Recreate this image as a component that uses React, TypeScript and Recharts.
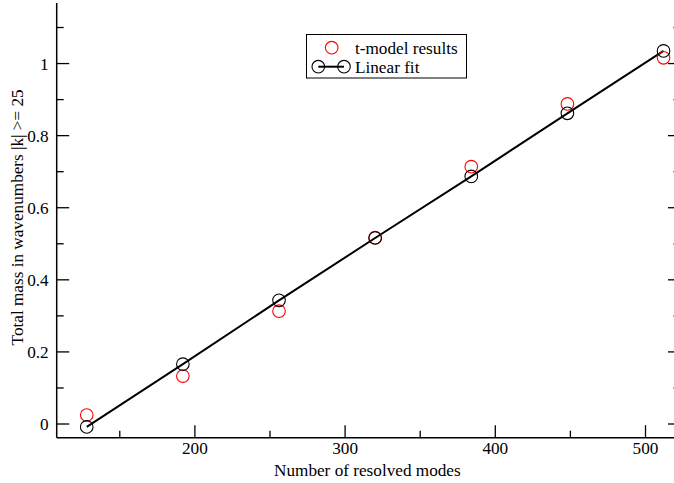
import React from "react";
import { ComposedChart, XAxis, YAxis, Line, Scatter, Legend } from "recharts";

const modes = [128, 192, 256, 320, 384, 448, 512];
const tModelResults = [0.025, 0.133, 0.313, 0.517, 0.714, 0.888, 1.016];
const linearFit = [-0.008, 0.166, 0.343, 0.516, 0.687, 0.862, 1.035];

const xTicks = [150, 200, 250, 300, 350, 400, 450, 500];
const xLabelled = [200, 300, 400, 500];
const yTicks = [0, 0.1, 0.2, 0.3, 0.4, 0.5, 0.6, 0.7, 0.8, 0.9, 1.0, 1.1];
const yLabelled = [0, 0.2, 0.4, 0.6, 0.8, 1.0];

const X_TITLE = "Number of resolved modes";
const Y_TITLE = "Total mass in wavenumbers |k| >= 25";
const SERIES_RED = "t-model results";
const SERIES_BLACK = "Linear fit";

const X_DOMAIN = [108, 523.3];
const Y_DOMAIN = [-0.038, 1.168];

const FONT = '"Liberation Serif", "Times New Roman", serif';
const FS = 17.2;
const MAJOR = 12.5;
const MINOR = 7;

const redData = modes.map((m, i) => ({ x: m, y: tModelResults[i] }));
const fitData = modes.map((m, i) => ({ x: m, y: linearFit[i] }));

const isXMajor = (v: number) => xLabelled.indexOf(v) >= 0;
const isYMajor = (v: number) => yLabelled.some((l) => Math.abs(l - v) < 1e-9);

const BottomTick = (p: any) => {
  const v = p.payload.value;
  const major = isXMajor(v);
  return (
    <g>
      <line x1={p.x} y1={p.y} x2={p.x} y2={p.y - (major ? MAJOR : MINOR)} stroke="#000" strokeWidth={1.3} />
      {major && (
        <text x={p.x} y={p.y + 16.5} textAnchor="middle" fontFamily={FONT} fontSize={FS} fill="#000">
          {String(v)}
        </text>
      )}
    </g>
  );
};

const TopTick = (p: any) => {
  const v = p.payload.value;
  const major = isXMajor(v);
  return <line x1={p.x} y1={p.y} x2={p.x} y2={p.y + (major ? MAJOR : MINOR)} stroke="#000" strokeWidth={1.3} />;
};

const LeftTick = (p: any) => {
  const v = p.payload.value;
  const major = isYMajor(v);
  return (
    <g>
      <line x1={p.x} y1={p.y} x2={p.x + (major ? MAJOR : MINOR)} y2={p.y} stroke="#000" strokeWidth={1.3} />
      {major && (
        <text x={p.x - 8} y={p.y} dy="0.35em" textAnchor="end" fontFamily={FONT} fontSize={FS} fill="#000">
          {String(Math.round(v * 10) / 10)}
        </text>
      )}
    </g>
  );
};

const RightTick = (p: any) => {
  const v = p.payload.value;
  const major = isYMajor(v);
  return <line x1={p.x} y1={p.y} x2={p.x - (major ? MAJOR : MINOR)} y2={p.y} stroke="#000" strokeWidth={1.3} />;
};

const XTitle = (p: any) => {
  const vb = p.viewBox;
  return (
    <text x={(56.7 + 674) / 2 + 2} y={vb.y + 38} textAnchor="middle" fontFamily={FONT} fontSize={FS} fill="#000">
      {X_TITLE}
    </text>
  );
};

const YTitle = (p: any) => {
  const vb = p.viewBox;
  const cx = vb.x + 23;
  const cy = vb.y + vb.height / 2 - 3;
  return (
    <text x={cx} y={cy} transform={`rotate(-90 ${cx} ${cy})`} textAnchor="middle" fontFamily={FONT} fontSize={FS} fill="#000">
      {Y_TITLE}
    </text>
  );
};

const RedDot = (p: any) => <circle cx={p.cx} cy={p.cy} r={6.3} fill="none" stroke="#ff0000" strokeWidth={1.1} />;

const LegendBox = () => (
  <svg width={162} height={46} style={{ display: "block" }}>
    <rect x={0.5} y={0.5} width={160} height={43.5} fill="#fff" stroke="#000" strokeWidth={1} />
    <circle cx={25.7} cy={13.7} r={6.3} fill="none" stroke="#ff0000" strokeWidth={1.1} />
    <text x={49} y={19.5} fontFamily={FONT} fontSize={FS} fill="#000">{SERIES_RED}</text>
    <line x1={12.3} y1={32.7} x2={38} y2={32.7} stroke="#000" strokeWidth={2} />
    <circle cx={12.3} cy={32.7} r={6.3} fill="none" stroke="#000" strokeWidth={1.1} />
    <circle cx={38} cy={32.7} r={6.3} fill="none" stroke="#000" strokeWidth={1.1} />
    <text x={49} y={38.5} fontFamily={FONT} fontSize={FS} fill="#000">{SERIES_BLACK}</text>
  </svg>
);

export default function App() {
  return (
    <div style={{ position: "absolute", left: 0, top: 0, width: 674, height: 483, overflow: "hidden", background: "#fff" }}>
      <ComposedChart width={682} height={483} margin={{ top: 3, right: 0, bottom: 0, left: 0 }}>
        <XAxis
          xAxisId={0}
          type="number"
          dataKey="x"
          domain={X_DOMAIN}
          allowDataOverflow
          ticks={xTicks}
          interval={0}
          height={45.3}
          tickSize={0}
          tickMargin={0}
          tickLine={false}
          axisLine={{ stroke: "#000", strokeWidth: 1.5 }}
          tick={<BottomTick />}
          label={{ value: X_TITLE, content: <XTitle /> }}
        />
        <XAxis
          xAxisId="top"
          orientation="top"
          type="number"
          dataKey="x"
          domain={X_DOMAIN}
          allowDataOverflow
          ticks={xTicks}
          interval={0}
          height={0}
          tickSize={0}
          tickMargin={0}
          tickLine={false}
          axisLine={{ stroke: "#000", strokeWidth: 1.5 }}
          tick={<TopTick />}
        />
        <YAxis
          yAxisId={0}
          type="number"
          dataKey="y"
          domain={Y_DOMAIN}
          allowDataOverflow
          ticks={yTicks}
          interval={0}
          width={56.7}
          tickSize={0}
          tickMargin={0}
          tickLine={false}
          axisLine={{ stroke: "#000", strokeWidth: 1.5 }}
          tick={<LeftTick />}
          label={{ value: Y_TITLE, content: <YTitle /> }}
        />
        <YAxis
          yAxisId="right"
          orientation="right"
          type="number"
          dataKey="y"
          domain={Y_DOMAIN}
          allowDataOverflow
          ticks={yTicks}
          interval={0}
          width={1.5}
          tickSize={0}
          tickMargin={0}
          tickLine={false}
          axisLine={{ stroke: "#000", strokeWidth: 1.5 }}
          tick={<RightTick />}
        />
        <Scatter
          name={SERIES_RED}
          data={redData}
          dataKey="y"
          fill="none"
          shape={<RedDot />}
          isAnimationActive={false}
        />
        <Line
          name={SERIES_BLACK}
          data={fitData}
          dataKey="y"
          type="linear"
          stroke="#000"
          strokeWidth={2}
          dot={{ r: 6.3, fill: "none", stroke: "#000", strokeWidth: 1.1 }}
          activeDot={false}
          isAnimationActive={false}
        />
        <Legend
          layout="horizontal"
          verticalAlign="middle"
          align="center"
          content={<LegendBox />}
          wrapperStyle={{ position: "absolute", left: 306, top: 34, width: 162, height: 46 }}
        />
      </ComposedChart>
    </div>
  );
}
